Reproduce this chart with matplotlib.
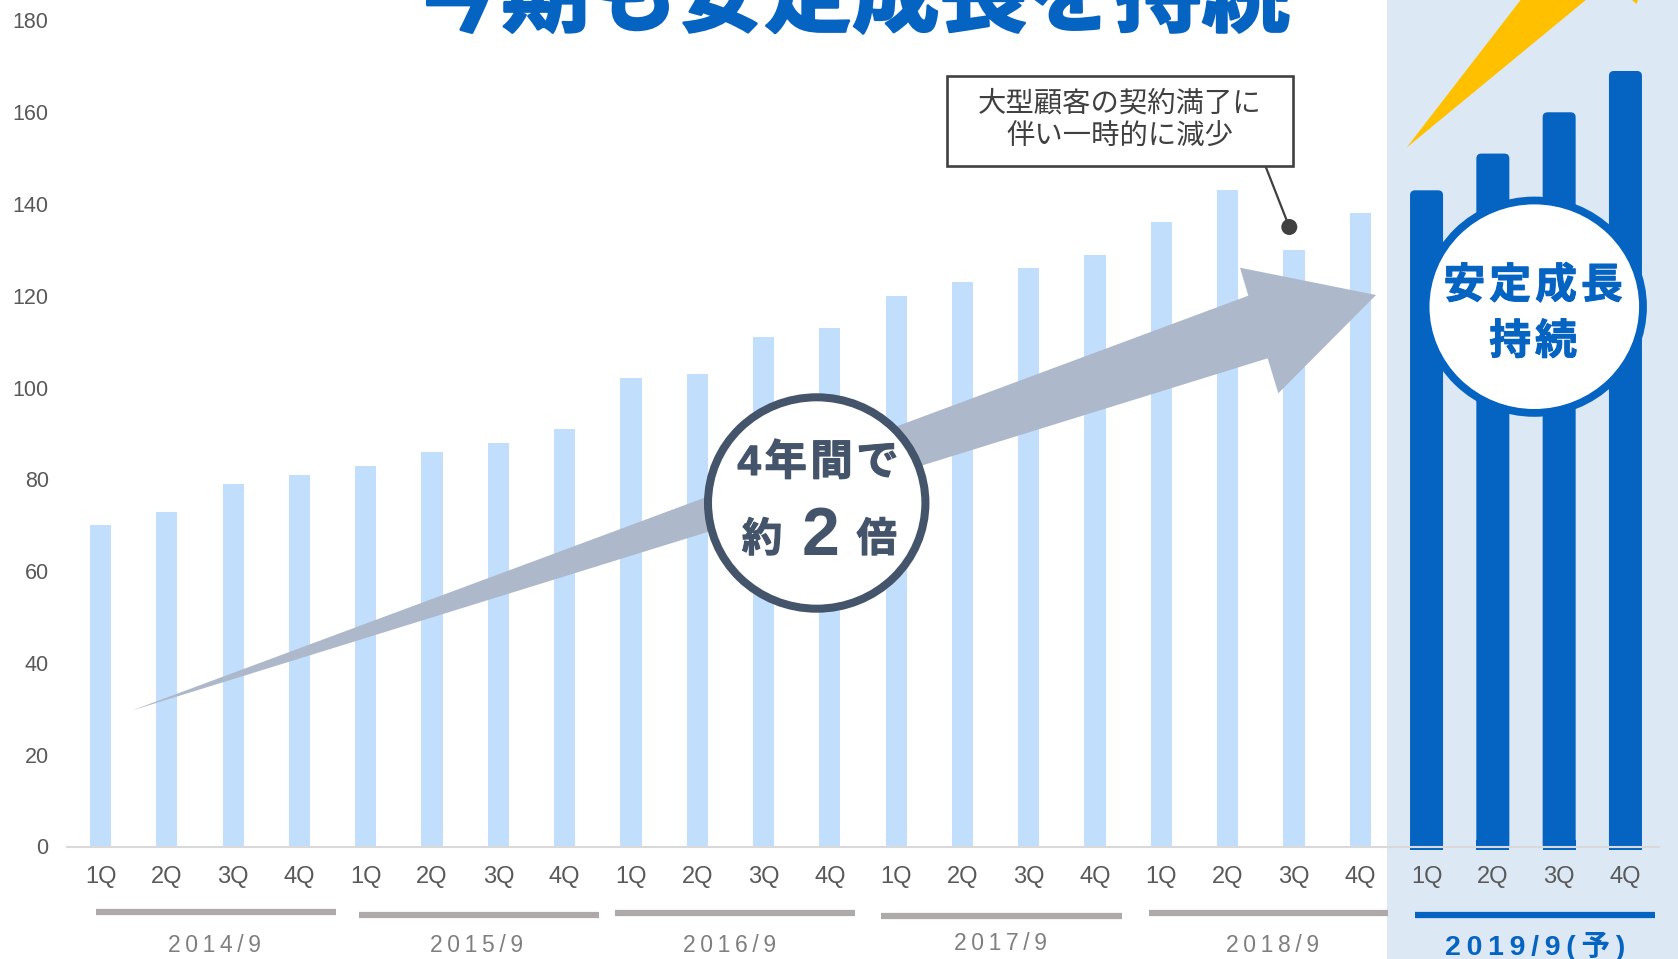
import matplotlib
matplotlib.use("Agg")
import matplotlib.pyplot as plt
from matplotlib.patches import Circle, Ellipse, FancyBboxPatch, Polygon, Rectangle
from matplotlib import patheffects

# ==========================================
# DATA
# ==========================================
QUARTERS = ["1Q", "2Q", "3Q", "4Q"] * 6
ACTUAL = [70, 73, 79, 81, 83, 86, 88, 91, 102, 103, 111, 113,
          120, 123, 126, 129, 136, 143, 130, 138]
FORECAST = [143, 151, 160, 169]
Y_TICKS = [0, 20, 40, 60, 80, 100, 120, 140, 160, 180]
YEAR_LABELS = ["2014/9", "2015/9", "2016/9", "2017/9", "2018/9", "2019/9(予)"]

# ==========================================
# STYLE
# ==========================================
W, H = 1678, 959
BLUE = "#0563C1"
LIGHT_BLUE = "#C2DEFD"
PANEL = "#DDE8F5"
GREY_BAR = "#AEAAAA"
ARROW = "#ADB9CA"
NAVY = "#44546A"
DARK = "#404040"
JP = ["Noto Sans CJK JP", "DejaVu Sans"]
LATIN = ["Liberation Sans", "Noto Sans CJK JP"]

plt.rcParams["font.family"] = LATIN


def spaced(text, sep="\u2009"):
    return sep.join(text)


def heavy(text_obj, color, width=0.8):
    text_obj.set_path_effects([patheffects.withStroke(linewidth=width, foreground=color)])


fig = plt.figure(figsize=(W / 100, H / 100), dpi=100, facecolor="white")

# pixel-coordinate layers below and above the chart
back = fig.add_axes([0, 0, 1, 1], zorder=0)
back.set_xlim(0, W)
back.set_ylim(H, 0)
back.axis("off")
back.add_patch(Rectangle((1387, 0), W - 1387, H, color=PANEL, lw=0))

ax = fig.add_axes([67.4 / W, 1 - 846.5 / H, (1658.6 - 67.4) / W, 826 / H], zorder=1)
ax.patch.set_alpha(0)

top = fig.add_axes([0, 0, 1, 1], zorder=2)
top.set_xlim(0, W)
top.set_ylim(H, 0)
top.axis("off")

# ==========================================
# BARS
# ==========================================
x_actual = list(range(len(ACTUAL)))
x_forecast = list(range(len(ACTUAL), len(ACTUAL) + len(FORECAST)))

ax.bar(x_actual, ACTUAL, width=0.32, color=LIGHT_BLUE, zorder=2)

# forecast bars have rounded tops and run slightly below the baseline
px_x = 1 / 66.3
px_y = 180 / 826
dark_w = 33 * px_x
for xi, val in zip(x_forecast, FORECAST):
    ax.add_patch(FancyBboxPatch(
        (xi - dark_w / 2, -3 * px_y), dark_w, val + 3 * px_y,
        boxstyle=f"round,pad=0,rounding_size={5 * px_x}",
        mutation_aspect=px_y / px_x,
        facecolor=BLUE, edgecolor="none", zorder=2, clip_on=False))
ax.bar(x_forecast, [2] * 4, bottom=-3 * px_y, width=dark_w, color=BLUE, zorder=2, clip_on=False)

ax.set_xlim(-0.5, 23.5)
ax.set_ylim(0, 180)
ax.set_xticks(range(len(QUARTERS)))
ax.set_xticklabels(QUARTERS)
ax.set_yticks(Y_TICKS)
ax.tick_params(axis="x", length=0, pad=13.8, labelsize=17, labelcolor="#595959")
ax.tick_params(axis="y", length=0, pad=13.5, labelsize=15.5, labelcolor="#595959")
for side in ["top", "right", "left"]:
    ax.spines[side].set_visible(False)
ax.spines["bottom"].set_color("#D9D9D9")
ax.spines["bottom"].set_linewidth(1.5)
ax.spines["bottom"].set_zorder(3)

# ==========================================
# FISCAL YEAR BRACKETS
# ==========================================
year_lines = [(96.4, 336.4, 911.7), (358.9, 598.8, 915), (615, 855, 913.3),
              (881, 1121.7, 915.7), (1149, 1388, 913.3), (1414.7, 1655, 915)]
year_text = [(214.8, 945), (477, 945), (730, 945), (1000, 943), (1273, 945), (1535, 946.5)]
for i, label in enumerate(YEAR_LABELS):
    x0, x1, y = year_lines[i]
    last = i == len(YEAR_LABELS) - 1
    top.plot([x0, x1], [y, y], color=BLUE if last else GREY_BAR, lw=4.5, solid_capstyle="butt")
    tx, ty = year_text[i]
    if last:
        top.text(tx, ty, spaced(label), color=BLUE, fontsize=20.5, fontweight="bold",
                 ha="center", va="center")
    else:
        top.text(tx, ty, spaced(label), color="#7F7F7F", fontsize=16.5, ha="center", va="center")

# ==========================================
# ANNOTATIONS
# ==========================================
title = top.text(857 - 5, 24.5, "今期も安定成長を持続", family=JP, fontsize=63, fontweight="bold",
                 color=BLUE, ha="center", va="baseline")
heavy(title, BLUE, 2.0)

# lightning accent cut off by the top edge
top.add_patch(Polygon([(1406.5, 147.7), (1520.6, 0), (1585.8, 0)], closed=True, color="#FFC000", lw=0))
top.add_patch(Polygon([(1632, 0), (1638, 0), (1636.5, 4)], closed=True, color="#FFC000", lw=0))

# growth arrow
top.add_patch(Polygon([(131.6, 710.6), (1248.3, 295.7), (1240, 267.7), (1376, 295),
                       (1278.3, 393.3), (1267.7, 358.3)], closed=True, color=ARROW, lw=0))

# callout for the 3Q dip
top.plot([1265.7, 1289.3], [166.7, 227], color=DARK, lw=1.6, zorder=3)
top.add_patch(Circle((1289.3, 227), 8, color=DARK, lw=0, zorder=3))
top.add_patch(Rectangle((947.2, 75.7), 346, 90, facecolor="white", edgecolor=DARK, lw=1.9, zorder=4))
top.text(1120, 103.5, "大型顧客の契約満了に", family=JP, fontsize=20.4, color=DARK,
         ha="center", va="center", zorder=5)
top.text(1120, 137, "伴い一時的に減少", family=JP, fontsize=20.4, color=DARK,
         ha="center", va="center", zorder=5)

# 4-year badge
top.add_patch(Ellipse((816.7, 503), 217.4, 211.4, facecolor="white", edgecolor=NAVY, lw=5.8, zorder=3))
t = top.text(818, 464, spaced("4年間で", "\u200a"), family=LATIN, fontsize=30.5, fontweight="bold",
             color=NAVY, ha="center", va="center", zorder=4)
heavy(t, NAVY)
t = top.text(762, 540, "約", family=JP, fontsize=29, fontweight="bold", color=NAVY,
             ha="center", va="center", zorder=4)
heavy(t, NAVY)
t = top.text(820.7, 555, "2", family=LATIN, fontsize=49, fontweight="bold", color=NAVY,
             ha="center", va="baseline", zorder=4)
t = top.text(876.7, 540, "倍", family=JP, fontsize=29, fontweight="bold", color=NAVY,
             ha="center", va="center", zorder=4)
heavy(t, NAVY)

# steady growth badge
top.add_patch(Ellipse((1534.3, 306.7), 217.4, 212.4, facecolor="white", edgecolor=BLUE, lw=5.6, zorder=3))
t = top.text(1533, 286, spaced("安定成長", "\u200a"), family=JP, fontsize=30, fontweight="bold",
             color=BLUE, ha="center", va="center", zorder=4)
heavy(t, BLUE)
t = top.text(1533, 342, spaced("持続", "\u200a"), family=JP, fontsize=30, fontweight="bold",
             color=BLUE, ha="center", va="center", zorder=4)
heavy(t, BLUE)

fig.savefig("out.png", dpi=100, facecolor="white")
